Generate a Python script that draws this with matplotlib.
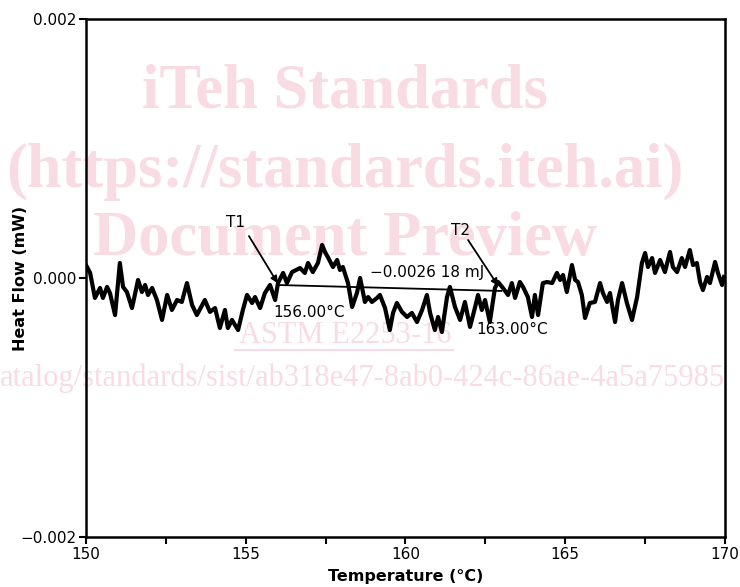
import matplotlib
matplotlib.use("Agg")
import matplotlib.pyplot as plt
from matplotlib.lines import Line2D
from matplotlib.ticker import FixedLocator, FuncFormatter

# temperature (deg C) and heat flow (nW)
temperature = [
    150.00, 150.13, 150.28, 150.44, 150.53, 150.66, 150.75, 150.91, 151.06, 151.16,
    151.28, 151.44, 151.63, 151.75, 151.85, 151.94, 152.07, 152.22, 152.38, 152.54,
    152.69, 152.85, 153.00, 153.16, 153.32, 153.47, 153.72, 153.88, 154.04, 154.19,
    154.35, 154.44, 154.57, 154.76, 154.91, 155.04, 155.20, 155.29, 155.45, 155.60,
    155.76, 155.92, 156.01, 156.17, 156.29, 156.45, 156.70, 156.85, 156.95, 157.10,
    157.26, 157.39, 157.48, 157.57, 157.73, 157.86, 157.95, 158.04, 158.20, 158.33,
    158.48, 158.58, 158.73, 158.83, 158.95, 159.11, 159.20, 159.36, 159.51, 159.61,
    159.73, 159.89, 160.05, 160.20, 160.36, 160.52, 160.67, 160.77, 160.92, 161.02,
    161.14, 161.30, 161.39, 161.55, 161.71, 161.86, 162.02, 162.18, 162.27, 162.39,
    162.49, 162.64, 162.80, 162.90, 163.05, 163.21, 163.33, 163.43, 163.58, 163.68,
    163.83, 163.96, 164.05, 164.15, 164.30, 164.43, 164.59, 164.74, 164.84, 164.93,
    165.05, 165.21, 165.31, 165.40, 165.52, 165.62, 165.77, 165.93, 166.09, 166.18,
    166.31, 166.40, 166.56, 166.65, 166.78, 166.93, 167.09, 167.25, 167.40, 167.50,
    167.59, 167.72, 167.81, 167.97, 168.12, 168.28, 168.37, 168.50, 168.65, 168.75,
    168.90, 169.00, 169.12, 169.22, 169.31, 169.44, 169.53, 169.69, 169.78, 169.91,
    169.97,
]
heat_flow_nw = [
    100, 39, -154, -77, -154, -69, -116, -286, 116, -69,
    -108, -232, -15, -108, -54, -131, -77, -170, -324, -131,
    -247, -170, -185, -39, -208, -286, -170, -262, -232, -386,
    -247, -386, -324, -402, -247, -131, -193, -147, -232, -116,
    -54, -170, -39, 39, -39, 46, 77, 39, 116, 46,
    116, 255, 201, 162, 85, 139, 62, 85, -39, -224,
    -116, 0, -185, -147, -185, -154, -131, -232, -402, -270,
    -193, -262, -301, -270, -340, -247, -131, -270, -402, -301,
    -417, -147, -69, -224, -324, -185, -378, -224, -131, -247,
    -170, -340, -77, -31, -77, -131, -39, -154, -31, -69,
    -147, -301, -131, -286, -39, -31, -39, 39, -15, 23,
    -108, 100, -15, -31, -131, -309, -193, -185, -39, -116,
    -185, -116, -340, -170, -39, -193, -324, -147, 116, 193,
    85, 154, 39, 139, 46, 201, 85, 46, 154, 85,
    216, 100, 116, -31, -93, 8, -39, 124, 39, -54,
    8,
]
heat_flow = [v / 1e6 for v in heat_flow_nw]

# integration limits and baseline
t1, t2 = 156.0, 163.0
base_t1, base_t2 = -0.000054, -0.000100
energy_text = "\u22120.0026 18 mJ"

x_ticks = [150, 155, 160, 165, 170]
x_minor = [152.5, 157.5, 162.5, 167.5]
y_ticks = [-0.002, 0.0, 0.002]

pink = "#f9dbe3"

fig = plt.figure(figsize=(7.4, 5.87), dpi=100)
ax = fig.add_axes([0.1162, 0.0852, 0.8635, 0.8824])
ax.patch.set_alpha(0)

# watermark
wm = dict(color=pink, family="Liberation Serif", ha="center", va="center", zorder=-1)
fig.text(0.466, 0.843, "iTeh Standards", fontsize=45, weight="bold", **wm)
fig.text(0.466, 0.707, "(https://standards.iteh.ai)", fontsize=45, weight="bold", **wm)
fig.text(0.466, 0.591, "Document Preview", fontsize=45, weight="bold", **wm)
fig.text(0.466, 0.428, "ASTM E2253-16", fontsize=22, **wm)
fig.add_artist(Line2D([235 / 740, 453 / 740], [1 - 350 / 587] * 2, color=pink, lw=1.5, zorder=-1))
fig.text(0.0, 0.355, "atalog/standards/sist/ab318e47-8ab0-424c-86ae-4a5a75985",
         fontsize=22, color=pink, family="Liberation Serif", ha="left", va="center", zorder=-1)

ax.plot(temperature, heat_flow, color="black", lw=3, solid_joinstyle="round", zorder=3)
ax.plot([t1, t2], [base_t1, base_t2], color="black", lw=1.3, zorder=4)

arrow = dict(arrowstyle="-|>", color="black", lw=1.3, mutation_scale=10, shrinkA=0, shrinkB=0)
ax.annotate("", xy=(t1, -0.00004), xytext=(155.1, 0.000324), arrowprops=arrow, zorder=5)
ax.annotate("", xy=(162.9, -0.00006), xytext=(161.96, 0.000293), arrowprops=arrow, zorder=5)
ax.text(154.69, 0.00043, "T1", fontsize=11, ha="center", va="center")
ax.text(161.71, 0.00037, "T2", fontsize=11, ha="center", va="center")
ax.text(158.9, 0.000046, energy_text, fontsize=11, ha="left", va="center")
ax.text(155.85, -0.00027, "156.00\u00b0C", fontsize=11, ha="left", va="center")
ax.text(162.21, -0.0004, "163.00\u00b0C", fontsize=11, ha="left", va="center")

ax.set_xlim(150, 170)
ax.set_ylim(-0.002, 0.002)
ax.xaxis.set_major_locator(FixedLocator(x_ticks))
ax.xaxis.set_minor_locator(FixedLocator(x_minor))
ax.yaxis.set_major_locator(FixedLocator(y_ticks))
ax.yaxis.set_major_formatter(FuncFormatter(lambda v, p: f"{v:.3f}".replace("-", "\u2212")))
ax.xaxis.set_major_formatter(FuncFormatter(lambda v, p: f"{v:g}"))
ax.tick_params(which="both", direction="out", length=5, width=1.5, labelsize=11, pad=2)
for s in ax.spines.values():
    s.set_linewidth(1.8)

ax.set_xlabel("Temperature (\u00b0C)", fontsize=11.5, weight="bold")
ax.set_ylabel("Heat Flow (mW)", fontsize=11.5, weight="bold")
ax.xaxis.set_label_coords(0.5, -0.062)
ax.yaxis.set_label_coords(-0.09, 0.5)

fig.savefig("out.png", dpi=100)
